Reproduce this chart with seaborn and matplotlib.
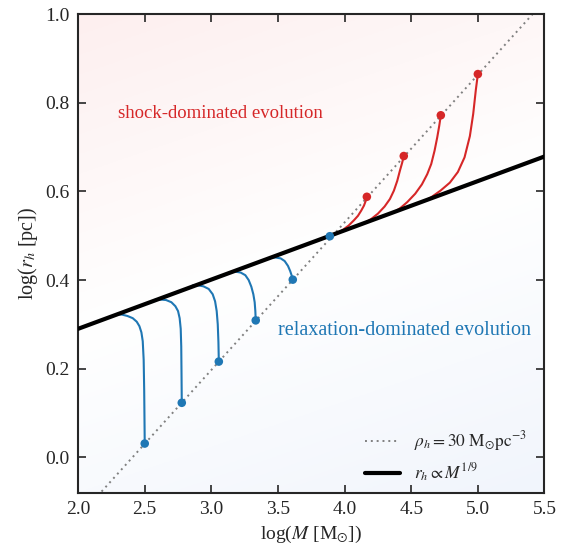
import numpy as np
import pandas as pd
import matplotlib
matplotlib.use("Agg")
import matplotlib.pyplot as plt
import seaborn as sns

# straight reference lines
density_x = [2.0, 5.5]
density_y = [-0.136, 1.030]
slope_x = [2.0, 5.5]
slope_y = [0.290, 0.679]

# starting points on the density line
blue_dot_x = [2.500, 2.778, 3.056, 3.333, 3.611, 3.889]
blue_dot_y = [0.031, 0.123, 0.216, 0.309, 0.401, 0.499]
red_dot_x = [4.167, 4.444, 4.722, 5.000]
red_dot_y = [0.588, 0.680, 0.772, 0.865]

# relaxation tracks (blue)
b1_x = [2.285, 2.33, 2.37, 2.41, 2.44, 2.46, 2.475, 2.485, 2.492, 2.496, 2.500]
b1_y = [0.323, 0.322, 0.319, 0.314, 0.306, 0.296, 0.282, 0.262, 0.220, 0.150, 0.031]
b2_x = [2.58, 2.62, 2.66, 2.70, 2.73, 2.75, 2.762, 2.770, 2.774, 2.776, 2.778]
b2_y = [0.356, 0.356, 0.355, 0.350, 0.341, 0.330, 0.314, 0.290, 0.250, 0.190, 0.123]
b3_x = [2.86, 2.90, 2.94, 2.98, 3.01, 3.028, 3.040, 3.048, 3.053, 3.056]
b3_y = [0.388, 0.388, 0.386, 0.380, 0.368, 0.352, 0.330, 0.300, 0.260, 0.216]
b4_x = [3.135, 3.18, 3.22, 3.255, 3.28, 3.30, 3.315, 3.325, 3.330, 3.333]
b4_y = [0.418, 0.419, 0.417, 0.411, 0.400, 0.385, 0.368, 0.350, 0.330, 0.309]
b5_x = [3.44, 3.48, 3.52, 3.55, 3.575, 3.592, 3.603, 3.611]
b5_y = [0.450, 0.451, 0.449, 0.443, 0.432, 0.420, 0.410, 0.401]

# shock tracks (red)
r1_x = [3.95, 3.99, 4.03, 4.07, 4.10, 4.125, 4.145, 4.160, 4.167]
r1_y = [0.507, 0.514, 0.523, 0.535, 0.545, 0.557, 0.568, 0.580, 0.588]
r2_x = [4.15, 4.20, 4.25, 4.30, 4.34, 4.37, 4.395, 4.415, 4.432, 4.444]
r2_y = [0.529, 0.538, 0.550, 0.566, 0.583, 0.602, 0.624, 0.647, 0.665, 0.680]
r3_x = [4.37, 4.42, 4.47, 4.53, 4.58, 4.62, 4.65, 4.675, 4.695, 4.710, 4.722]
r3_y = [0.553, 0.563, 0.576, 0.595, 0.616, 0.639, 0.662, 0.692, 0.722, 0.748, 0.772]
r4_x = [4.60, 4.65, 4.72, 4.79, 4.85, 4.90, 4.94, 4.965, 4.985, 5.000]
r4_y = [0.579, 0.587, 0.602, 0.620, 0.644, 0.677, 0.725, 0.775, 0.830, 0.865]

blue_tracks = [(b1_x, b1_y), (b2_x, b2_y), (b3_x, b3_y), (b4_x, b4_y), (b5_x, b5_y)]
red_tracks = [(r1_x, r1_y), (r2_x, r2_y), (r3_x, r3_y), (r4_x, r4_y)]

BLUE = "#1f77b4"
RED = "#d62728"

sns.set_style("ticks")
plt.rcParams["font.family"] = ["Liberation Serif", "DejaVu Serif"]
plt.rcParams["mathtext.fontset"] = "stix"

fig = plt.figure(figsize=(5.66, 5.49), dpi=100)
ax = fig.add_axes([0.138, 0.1025, 0.824, 0.8715])

# soft diagonal background: red tint top-left, blue tint bottom-right
n = 200
gx, gy = np.meshgrid(np.linspace(0, 1, n), np.linspace(0, 1, n))
t = np.clip(0.75 * gy + 0.25 * (1 - gx), 0, 1)  # 1 at top-left
red_tint = np.array([253, 239, 239]) / 255
blue_tint = np.array([241, 245, 252]) / 255
white = np.ones(3)
w_red = np.clip((t - 0.5) / 0.5, 0, 1)[..., None]
w_blue = np.clip((0.5 - t) / 0.5, 0, 1)[..., None]
img = white + w_red * (red_tint - white) + w_blue * (blue_tint - white)
ax.imshow(img, extent=[2.0, 5.5, -0.08, 1.0], origin="lower", aspect="auto", zorder=0)

sns.lineplot(x=density_x, y=density_y, ax=ax, color="grey", lw=1.4, linestyle=(0, (1, 2)),
             label=r"$\rho_h = 30\ \mathrm{M_{\odot} pc^{-3}}$", zorder=2)
sns.lineplot(x=slope_x, y=slope_y, ax=ax, color="black", lw=3,
             label=r"$r_h \propto M^{1/9}$", zorder=4)

for tx, ty in blue_tracks:
    sns.lineplot(x=tx, y=ty, ax=ax, color=BLUE, lw=1.5, sort=False, estimator=None, zorder=3)
for tx, ty in red_tracks:
    sns.lineplot(x=tx, y=ty, ax=ax, color=RED, lw=1.5, sort=False, estimator=None, zorder=3)

sns.scatterplot(x=blue_dot_x, y=blue_dot_y, ax=ax, color=BLUE, s=38, edgecolor="none", zorder=5)
sns.scatterplot(x=red_dot_x, y=red_dot_y, ax=ax, color=RED, s=38, edgecolor="none", zorder=5)

ax.text(2.3, 0.775, "shock-dominated evolution", color=RED, fontsize=13.5, va="center")
ax.text(3.5, 0.286, "relaxation-dominated evolution", color=BLUE, fontsize=14.5, va="center")

ax.set_xlim(2.0, 5.5)
ax.set_ylim(-0.08, 1.0)
ax.set_xticks([2.0, 2.5, 3.0, 3.5, 4.0, 4.5, 5.0, 5.5])
ax.set_yticks([0.0, 0.2, 0.4, 0.6, 0.8, 1.0])
ax.tick_params(direction="in", top=True, right=True, length=6, width=1.2, labelsize=14, pad=6)
for sp in ax.spines.values():
    sp.set_linewidth(1.5)
ax.set_xlabel(r"log($M$ [M$_{\odot}$])", fontsize=14)
ax.set_ylabel(r"log($r_h$ [pc])", fontsize=14.5)

ax.legend(loc="lower right", frameon=False, fontsize=12.5, handlelength=2.0,
          bbox_to_anchor=(0.995, -0.015))

fig.savefig("out.png", dpi=100)
